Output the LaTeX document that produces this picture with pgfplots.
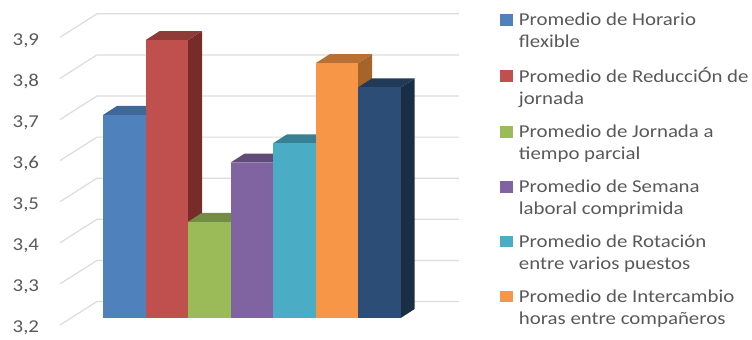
\documentclass[border=0pt]{standalone}
\usepackage{fontspec}
\setmainfont{Carlito}[FakeStretch=1.15]
\usepackage{pgfplots}
\pgfplotsset{compat=1.18}

\definecolor{gridgrey}{HTML}{DCDCDC}
\definecolor{labelgrey}{HTML}{595959}
\definecolor{bluef}{HTML}{4F81BD}\definecolor{bluet}{HTML}{3F6797}\definecolor{blues}{HTML}{2F4D71}
\definecolor{redf}{HTML}{C0504D}\definecolor{redt}{HTML}{8F3B38}\definecolor{reds}{HTML}{772C2A}
\definecolor{greenf}{HTML}{9BBB59}\definecolor{greent}{HTML}{748C43}\definecolor{greens}{HTML}{5D7035}
\definecolor{purplef}{HTML}{8064A2}\definecolor{purplet}{HTML}{604B7A}\definecolor{purples}{HTML}{4D3C61}
\definecolor{cyanf}{HTML}{4BACC6}\definecolor{cyant}{HTML}{388194}\definecolor{cyans}{HTML}{2D6777}
\definecolor{orangef}{HTML}{F79646}\definecolor{oranget}{HTML}{B97034}\definecolor{oranges}{HTML}{A5642A}
\definecolor{navyf}{HTML}{2C4D75}\definecolor{navyt}{HTML}{213A58}\definecolor{navys}{HTML}{1A2E46}

% Depth of the extruded bars, in axis units (14 px across, 0.0219 up).
\newcommand{\depthx}{14}
\newcommand{\depthy}{0.0219}

% One grid level: the receding floor-to-wall stroke and the line along the back wall.
\newcommand{\gridlevel}[1]{%
  \pgfmathsetmacro{\wally}{#1+0.0401}%
  \pgfmathsetmacro{\fronty}{#1-0.0171}%
  \addplot[forget plot,gridgrey,line width=0.9pt] coordinates {(60,\fronty) (97,\wally) (459,\wally)};%
}

% One 3D bar: left edge, right edge, value, then front/top/side colours.
\newcommand{\barthree}[6]{%
  \pgfmathsetmacro{\xa}{#2+\depthx}%
  \pgfmathsetmacro{\xb}{#1+\depthx}%
  \pgfmathsetmacro{\ya}{#3+\depthy}%
  \pgfmathsetmacro{\yb}{3.2+\depthy}%
  \addplot[forget plot,fill=#6,draw=none] coordinates {(#2,3.2) (\xa,\yb) (\xa,\ya) (#2,#3)} -- cycle;%
  \addplot[forget plot,fill=#5,draw=none] coordinates {(#1,#3) (#2,#3) (\xa,\ya) (\xb,\ya)} -- cycle;%
  \addplot[forget plot,fill=#4,draw=none] coordinates {(#1,3.2) (#2,3.2) (#2,#3) (#1,#3)} -- cycle;%
}

\begin{document}
\begin{tikzpicture}
\begin{axis}[
  scale only axis,
  width=564pt, height=251.25pt,
  xmin=0, xmax=752,
  ymin=3.1586, ymax=3.9737,
  axis line style={draw=none},
  tick style={draw=none},
  xtick=\empty,
  ytick={3.183,3.283,3.383,3.483,3.583,3.683,3.783,3.883},
  yticklabels={3{,}2,3{,}3,3{,}4,3{,}5,3{,}6,3{,}7,3{,}8,3{,}9},
  yticklabel style={anchor=east,xshift=32.8pt,yshift=-2.4pt,font=\fontsize{13.6}{14}\selectfont,text=labelgrey},
  clip=false,
  legend style={
    at={(0.6597,0.978)}, anchor=north west,
    draw=none, fill=none, overlay,
    font=\fontsize{13.6}{16.5}\selectfont,
    text=labelgrey,
    cells={anchor=west,align=left},
    row sep=9.65pt,
    /tikz/column 1/.style={column sep=3pt},
  },
  legend cell align=left,
  legend image code/.code={\fill[#1] (0pt,4.75pt) rectangle (8.5pt,12.75pt);},
]
% Grid
\gridlevel{3.2}\gridlevel{3.3}\gridlevel{3.4}\gridlevel{3.5}
\gridlevel{3.6}\gridlevel{3.7}\gridlevel{3.8}\gridlevel{3.9}

% Bars, left to right so each one covers its neighbour's side
\barthree{103}{145.5}{3.694}{bluef}{bluet}{blues}
\barthree{145.5}{188}{3.876}{redf}{redt}{reds}
\barthree{188}{230.5}{3.434}{greenf}{greent}{greens}
\barthree{230.5}{273}{3.578}{purplef}{purplet}{purples}
\barthree{273}{315.7}{3.625}{cyanf}{cyant}{cyans}
\barthree{315.7}{358}{3.82}{orangef}{oranget}{oranges}
\barthree{358}{400.7}{3.761}{navyf}{navyt}{navys}

% Legend
\addlegendimage{bluef}\addlegendentry{Promedio de Horario\\flexible}
\addlegendimage{redf}\addlegendentry{Promedio de ReducciÓn de\\jornada}
\addlegendimage{greenf}\addlegendentry{Promedio de Jornada a\\tiempo parcial}
\addlegendimage{purplef}\addlegendentry{Promedio de Semana\\laboral comprimida}
\addlegendimage{cyanf}\addlegendentry{Promedio de Rotación\\entre varios puestos}
\addlegendimage{orangef}\addlegendentry{Promedio de Intercambio\\horas entre compañeros}
\end{axis}
\end{tikzpicture}
\end{document}
